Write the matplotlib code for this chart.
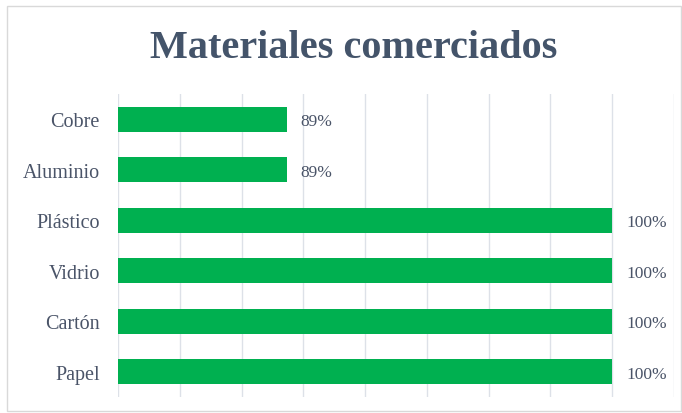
import matplotlib.pyplot as plt
from matplotlib.patches import Rectangle

# data (top to bottom)
materiales = ["Cobre", "Aluminio", "Plástico", "Vidrio", "Cartón", "Papel"]
porcentaje = [0.8947, 0.8947, 1.0, 1.0, 1.0, 1.0]
etiquetas = ["89%", "89%", "100%", "100%", "100%", "100%"]

plt.rcParams['font.family'] = ['Liberation Serif', 'DejaVu Serif']

fig = plt.figure(figsize=(6.82, 4.14), dpi=100)
ax = fig.add_axes([118 / 682, 1 - 398 / 414, (674 - 118) / 682, (398 - 95) / 414])

pos = list(range(len(materiales)))[::-1]
ax.barh(pos, porcentaje, height=0.5, color="#00B050", zorder=3)

for y, v, t in zip(pos, porcentaje, etiquetas):
    ax.annotate(t, (v, y), xytext=(10, -1.5), textcoords="offset points",
                ha="left", va="center", fontsize=12.5, color="#4a5468")

ax.set_xlim(0.84, 1.02)
ax.set_ylim(-0.5, len(materiales) - 0.5)
ax.set_xticks([0.84 + 0.02 * i for i in range(10)])
ax.set_xticklabels([])
ax.set_yticks(pos)
ax.set_yticklabels(materiales, fontsize=14.5, color="#4a5468")
ax.tick_params(axis="both", length=0, pad=13)
ax.grid(axis="x", color="#dde1e8", linewidth=1, zorder=0)
for s in ax.spines.values():
    s.set_visible(False)

fig.text(0.518, 0.884, "Materiales comerciados", ha="center", va="center",
         fontsize=29, fontweight="bold", color="#44546A")

fig.patches.append(Rectangle((7 / 682, 2 / 414), 674 / 682, 405 / 414,
                             transform=fig.transFigure, fill=False,
                             edgecolor="#d9d9d9", linewidth=1))

fig.savefig("out.png", dpi=100)
